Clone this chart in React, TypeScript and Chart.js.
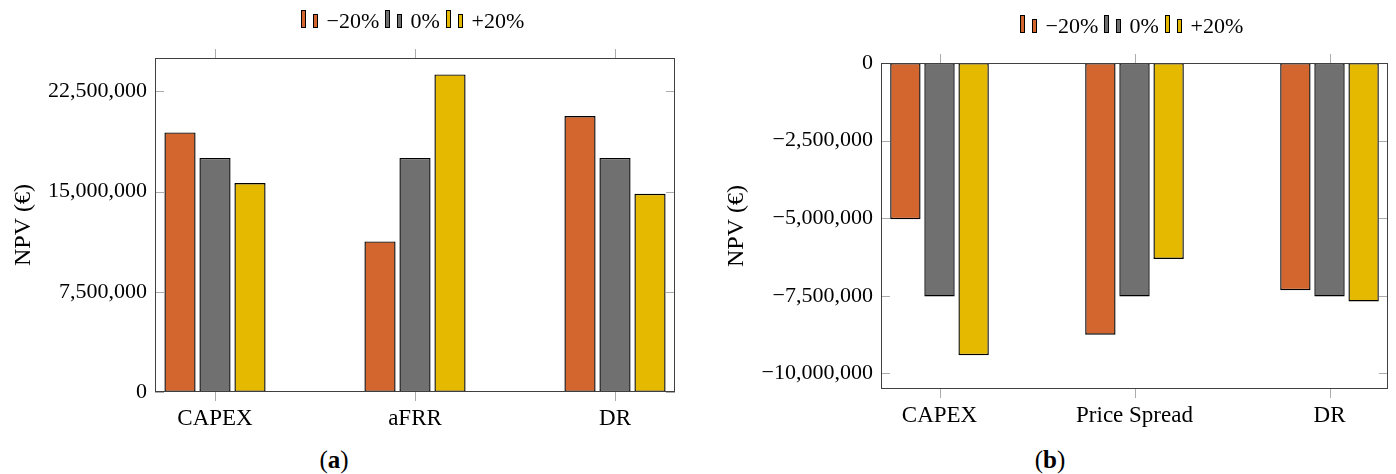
import React, { useEffect, useRef } from "react";
import { Chart, registerables } from "chart.js";

Chart.register(...registerables);

// Sensitivity scenarios shown in both panels
const seriesLabels = ["\u221220%", "0%", "+20%"];
const seriesColors = ["#D3652F", "#707070", "#E5B900"];

// Panel (a): NPV sensitivity
const categoriesA = ["CAPEX", "aFRR", "DR"];
const minus20A = [19430000, 11270000, 20660000];
const baseA = [17520000, 17520000, 17520000];
const plus20A = [15640000, 23770000, 14840000];
const yTicksA = [0, 7500000, 15000000, 22500000];

// Panel (b): NPV sensitivity
const categoriesB = ["CAPEX", "Price Spread", "DR"];
const minus20B = [-5030000, -8750000, -7320000];
const baseB = [-7520000, -7520000, -7520000];
const plus20B = [-9410000, -6310000, -7680000];
const yTicksB = [0, -2500000, -5000000, -7500000, -10000000];

const FONT = '"Liberation Serif", "Times New Roman", serif';

function formatNumber(v: number): string {
  const s = Math.abs(v).toLocaleString("en-US");
  return v < 0 ? "\u2212" + s : s;
}

type PanelLayout = {
  width: number;
  height: number;
  padTop: number;
  padRight: number;
  yAxisWidth: number;
  xAxisHeight: number;
  titleBaselineX: number;
  legendBaseline: number;
};

const framePlugin = {
  id: "npvFrame",
  afterDatasetsDraw(chart: any, _args: any, opts: any) {
    const { ctx, chartArea: a } = chart;
    const xs = chart.scales.x;
    const ys = chart.scales.y;
    const tick = 9;
    ctx.save();
    ctx.lineWidth = 1;
    ctx.strokeStyle = "#ababab";
    ctx.beginPath();
    (opts.yTicks as number[]).forEach((v) => {
      const py = Math.round(ys.getPixelForValue(v)) + 0.5;
      ctx.moveTo(a.left, py);
      ctx.lineTo(a.left + tick, py);
      ctx.moveTo(a.right - tick, py);
      ctx.lineTo(a.right, py);
    });
    (opts.categories as string[]).forEach((_c, i) => {
      const px = Math.round(xs.getPixelForValue(i)) + 0.5;
      ctx.moveTo(px, a.top - tick);
      ctx.lineTo(px, a.top);
      ctx.moveTo(px, a.bottom);
      ctx.lineTo(px, a.bottom + tick);
    });
    ctx.stroke();
    ctx.strokeStyle = "#404040";
    const l = Math.round(a.left) + 0.5;
    const r = Math.round(a.right) - 0.5;
    const t = Math.round(a.top) + 0.5;
    const b = Math.round(a.bottom) - 0.5;
    ctx.strokeRect(l, t, r - l, b - t);
    ctx.restore();
  },
  afterDraw(chart: any, _args: any, opts: any) {
    const { ctx, chartArea: a } = chart;
    ctx.save();
    // rotated y-axis title
    ctx.fillStyle = "#000";
    ctx.font = `24px ${FONT}`;
    ctx.textAlign = "center";
    ctx.textBaseline = "alphabetic";
    ctx.translate(opts.titleBaselineX, (a.top + a.bottom) / 2);
    ctx.rotate(-Math.PI / 2);
    ctx.fillText("NPV (\u20AC)", 0, 0);
    ctx.restore();

    // legend: two small bars per entry, then the label
    ctx.save();
    ctx.font = `22px ${FONT}`;
    ctx.textBaseline = "alphabetic";
    ctx.textAlign = "left";
    const iconW = 5;
    const iconGap = 7;
    const textGap = 8.5;
    const itemGap = 6;
    const widths = seriesLabels.map((s) => ctx.measureText(s).width);
    const total =
      widths.reduce((acc, w) => acc + iconW * 2 + iconGap + textGap + w, 0) +
      itemGap * (seriesLabels.length - 1);
    let x = Math.round((a.left + a.right) / 2 - 2.5 - total / 2);
    const base = opts.legendBaseline;
    const bottom = Math.round(base);
    seriesLabels.forEach((label, i) => {
      ctx.fillStyle = seriesColors[i];
      ctx.strokeStyle = "#000";
      ctx.lineWidth = 1;
      ctx.fillRect(x, bottom - 18, iconW, 18);
      ctx.strokeRect(x + 0.5, bottom - 17.5, iconW - 1, 17);
      const x2 = x + iconW + iconGap;
      ctx.fillRect(x2, bottom - 14, iconW, 14);
      ctx.strokeRect(x2 + 0.5, bottom - 13.5, iconW - 1, 13);
      const tx = x2 + iconW + textGap;
      ctx.fillStyle = "#000";
      ctx.fillText(label, tx, base);
      x = Math.round(tx + widths[i] + itemGap);
    });
    ctx.restore();
  },
};

function NpvPanel(props: {
  categories: string[];
  series: number[][];
  yTicks: number[];
  yMin: number;
  yMax: number;
  layout: PanelLayout;
}) {
  const ref = useRef<HTMLCanvasElement>(null);
  const { categories, series, yTicks, yMin, yMax, layout } = props;

  useEffect(() => {
    if (!ref.current) return;
    const chart = new Chart(ref.current, {
      type: "bar",
      data: {
        datasets: series.map((values, s) => ({
          label: seriesLabels[s],
          data: categories.map((_c, i) => ({ x: i, y: values[i] })),
          backgroundColor: seriesColors[s],
          borderColor: "#000",
          borderWidth: 1.4,
          borderSkipped: false,
          inflateAmount: 0,
          categoryPercentage: 0.525,
          barPercentage: 0.89,
        })),
      },
      options: {
        responsive: false,
        animation: false,
        devicePixelRatio: 1,
        layout: {
          padding: { top: layout.padTop, right: layout.padRight, left: 0, bottom: 0 },
        },
        plugins: {
          legend: { display: false },
          tooltip: { enabled: false },
          npvFrame: {
            yTicks,
            categories,
            titleBaselineX: layout.titleBaselineX,
            legendBaseline: layout.legendBaseline,
          },
        } as any,
        scales: {
          x: {
            type: "linear",
            min: -0.3,
            max: 2.3,
            offset: false,
            grid: { display: false, drawTicks: false, offset: false },
            border: { display: false },
            afterBuildTicks: (s: any) => {
              s.ticks = categories.map((_c, i) => ({ value: i }));
            },
            afterFit: (s: any) => {
              s.height = layout.xAxisHeight;
            },
            ticks: {
              autoSkip: false,
              maxRotation: 0,
              padding: 13,
              color: "#000",
              font: { family: FONT, size: 23 },
              callback: (v: any) => categories[Number(v)] ?? "",
            },
          },
          y: {
            type: "linear",
            min: yMin,
            max: yMax,
            grid: { display: false, drawTicks: false },
            border: { display: false },
            afterBuildTicks: (s: any) => {
              s.ticks = yTicks.map((v) => ({ value: v }));
            },
            afterFit: (s: any) => {
              s.width = layout.yAxisWidth;
            },
            ticks: {
              padding: 8,
              color: "#000",
              font: { family: FONT, size: 22 },
              callback: (v: any) => formatNumber(Number(v)),
            },
          },
        },
      } as any,
      plugins: [framePlugin],
    });
    return () => chart.destroy();
  }, []);

  return (
    <canvas
      ref={ref}
      width={layout.width}
      height={layout.height}
      style={{ display: "block", width: layout.width, height: layout.height }}
    />
  );
}

const captionStyle: React.CSSProperties = {
  position: "absolute",
  top: 460,
  transform: "translate(-50%, -50%)",
  fontFamily: FONT,
  fontSize: 25,
  lineHeight: "28px",
  color: "#000",
  whiteSpace: "nowrap",
};

export default function App() {
  return (
    <div
      style={{
        position: "absolute",
        left: 0,
        top: 0,
        width: 1396,
        height: 474,
        background: "#fff",
        overflow: "hidden",
      }}
    >
      <div style={{ position: "absolute", left: 0, top: 0 }}>
        <NpvPanel
          categories={categoriesA}
          series={[minus20A, baseA, plus20A]}
          yTicks={yTicksA}
          yMin={0}
          yMax={25000000}
          layout={{
            width: 700,
            height: 440,
            padTop: 58,
            padRight: 25,
            yAxisWidth: 155,
            xAxisHeight: 48,
            titleBaselineX: 29.5,
            legendBaseline: 27.5,
          }}
        />
      </div>
      <div style={{ position: "absolute", left: 700, top: 0 }}>
        <NpvPanel
          categories={categoriesB}
          series={[minus20B, baseB, plus20B]}
          yTicks={yTicksB}
          yMin={-10500000}
          yMax={0}
          layout={{
            width: 696,
            height: 440,
            padTop: 63,
            padRight: 8,
            yAxisWidth: 181,
            xAxisHeight: 51,
            titleBaselineX: 42.7,
            legendBaseline: 33,
          }}
        />
      </div>
      <div style={{ ...captionStyle, left: 334 }}>
        (<b>a</b>)
      </div>
      <div style={{ ...captionStyle, left: 1050 }}>
        (<b>b</b>)
      </div>
    </div>
  );
}
